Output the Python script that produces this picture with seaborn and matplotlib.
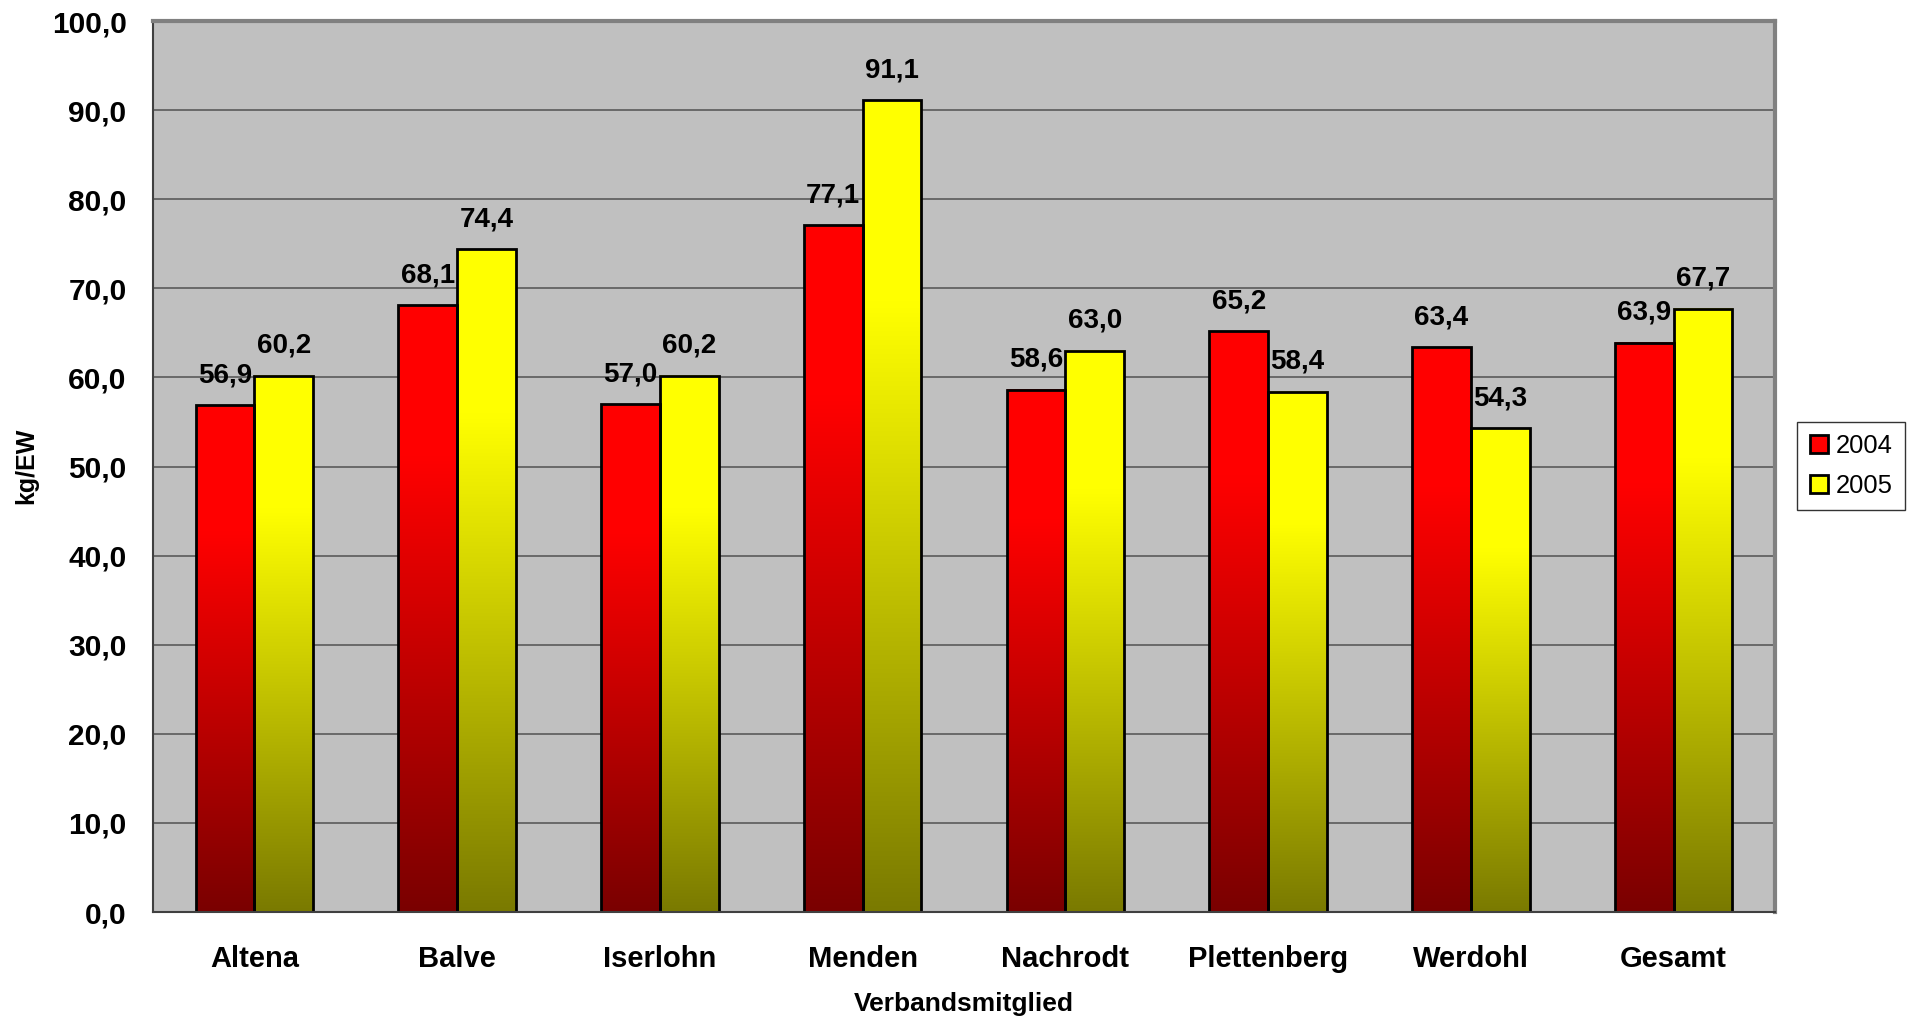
import numpy as np
import pandas as pd
import matplotlib
matplotlib.use("Agg")
import matplotlib.pyplot as plt
import seaborn as sns
from matplotlib.patches import Patch
from matplotlib.colors import to_rgb

members = ["Altena", "Balve", "Iserlohn", "Menden", "Nachrodt", "Plettenberg", "Werdohl", "Gesamt"]
years = ["2004", "2005"]
values_2004 = [56.9, 68.1, 57.0, 77.1, 58.6, 65.2, 63.4, 63.9]
values_2005 = [60.2, 74.4, 60.2, 91.1, 63.0, 58.4, 54.3, 67.7]

df = pd.DataFrame({
    "member": members * 2,
    "year": ["2004"] * len(members) + ["2005"] * len(members),
    "value": values_2004 + values_2005,
})

sns.set_style("white")
plt.rcParams["font.family"] = ["Liberation Sans", "DejaVu Sans"]
plt.rcParams["text.color"] = "black"
plt.rcParams["xtick.labelcolor"] = "black"
plt.rcParams["ytick.labelcolor"] = "black"

top_colors = {"2004": "#ff0000", "2005": "#ffff00"}
bottom_colors = {"2004": "#7a0000", "2005": "#7a7a00"}

W, H = 1910, 1022
fig = plt.figure(figsize=(W / 100, H / 100), dpi=100)
ax = fig.add_axes([153 / W, 1 - 912 / H, (1775 - 153) / W, (912 - 21) / H])
ax.set_facecolor("#c0c0c0")

sns.barplot(data=df, x="member", y="value", hue="year", order=members, hue_order=years,
            palette=top_colors, width=0.58, gap=0, ax=ax, legend=False, zorder=3)

# gradient fill per bar (bright on top, dark at the bottom)
for year, cont in zip(years, ax.containers):
    c_top = np.array(to_rgb(top_colors[year]))
    c_bot = np.array(to_rgb(bottom_colors[year]))
    f = np.linspace(0, 1, 256)
    t = np.clip(f / 0.75, 0, 1)
    grad = c_bot[None, :] + (c_top - c_bot)[None, :] * t[:, None]
    grad = grad[::-1][:, None, :]
    for bar in cont:
        x0, w, h = bar.get_x(), bar.get_width(), bar.get_height()
        ax.imshow(grad, extent=[x0, x0 + w, 0, h], aspect="auto", zorder=3.5, interpolation="bilinear")
        bar.set_facecolor("none")
        bar.set_edgecolor("black")
        bar.set_linewidth(2)
        bar.set_zorder(4)
        ax.annotate(f"{h:.1f}".replace(".", ","), (x0 + w / 2, h), xytext=(0, 16.5),
                    textcoords="offset points", ha="center", va="baseline",
                    fontsize=20, fontweight="bold", color="black", zorder=5)

ax.set_xlim(-0.5, len(members) - 0.5)
ax.set_ylim(0, 100)
ax.set_yticks(np.arange(0, 101, 10))
ax.set_yticklabels([f"{v:.1f}".replace(".", ",") for v in np.arange(0, 101, 10)])
ax.yaxis.grid(True, color="#5a5a5a", linewidth=1.2, zorder=1)
ax.set_axisbelow(True)

ax.set_xticks(range(len(members)))
ax.set_xticklabels(members)
ax.set_xticks(np.arange(-0.5, len(members), 1), minor=True)
ax.tick_params(axis="x", which="major", length=0, pad=24, labelsize=21, labelcolor="black")
ax.tick_params(axis="x", which="minor", length=10, width=1, color="#404040", direction="out")
ax.tick_params(axis="y", length=9, width=1, color="#404040", direction="out", labelsize=21.5,
               pad=10, labelcolor="black")
for lab in ax.get_xticklabels() + ax.get_yticklabels():
    lab.set_fontweight("bold")

for side in ["top", "right"]:
    ax.spines[side].set_color("#808080")
    ax.spines[side].set_linewidth(3)
for side in ["left", "bottom"]:
    ax.spines[side].set_color("#404040")
    ax.spines[side].set_linewidth(1.5)
ax.spines["bottom"].set_zorder(6)

ax.set_xlabel("")
ax.set_ylabel("")
fig.text((153 + 1775) / 2 / W, 1 - 1011 / H, "Verbandsmitglied", ha="center", va="baseline",
         fontsize=19, fontweight="bold", color="black")
fig.text(26 / W, 1 - 466 / H, "kg/EW", ha="center", va="center", rotation=90,
         fontsize=18, fontweight="bold", color="black")

handles = [Patch(facecolor=top_colors[y], edgecolor="black", linewidth=2) for y in years]
leg = fig.legend(handles, years, loc="center left", bbox_to_anchor=(1797 / W, 1 - 466 / H),
                 fontsize=18.4, frameon=True, fancybox=False, edgecolor="black",
                 handlelength=0.7, handleheight=0.7, handletextpad=0.3, borderpad=0.5,
                 labelspacing=0.6, borderaxespad=0)
leg.get_frame().set_linewidth(1)
for txt in leg.get_texts():
    txt.set_color("black")

fig.savefig("out.png", dpi=100)
